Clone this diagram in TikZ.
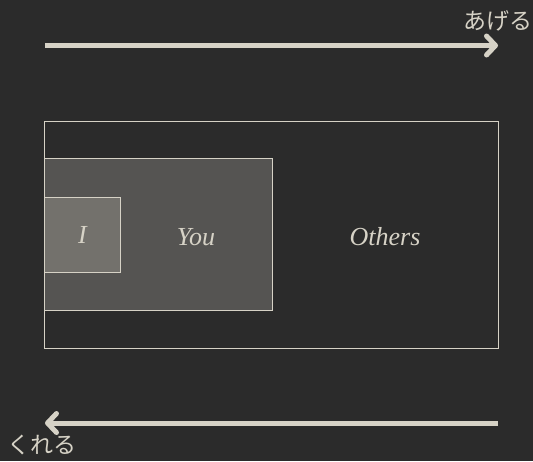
\documentclass[tikz,border=0pt]{standalone}
\usepackage{fontspec}
\setmainfont{Liberation Serif}
\newfontfamily\jpfont{Noto Sans CJK JP}
\usetikzlibrary{positioning,arrows.meta}
\definecolor{bgdark}{HTML}{2B2B2B}
\definecolor{linelight}{HTML}{D6D2C6}
\definecolor{youfill}{HTML}{555452}
\definecolor{ifill}{HTML}{73716C}

\begin{document}
\begin{tikzpicture}[x=1pt,y=-1pt,
	box/.style={draw=linelight, line width=1pt, inner sep=0pt, anchor=north west},
	lbl/.style={text=linelight, inner sep=0pt, font=\fontsize{26}{30}\selectfont\itshape},
	jlbl/.style={text=linelight, inner sep=0pt, font=\jpfont\fontsize{23}{27}\selectfont},
	flow/.style={draw=linelight, line width=5pt,
		-{Straight Barb[length=9pt, width=19pt, round]}}]
	\fill[bgdark] (0,0) rectangle (533,461);
	\useasboundingbox (0,0) rectangle (533,461);

	%Boxes
	\node[box, fill=bgdark, minimum width=454pt, minimum height=227pt] (others) at (44,121) {};
	\node[box, fill=youfill, minimum width=228pt, minimum height=152pt] (you) at (44,158) {};
	\node[box, fill=ifill, minimum width=76pt, minimum height=75pt] (me) at (44,197) {};

	%Labels
	\node[lbl] (lme) at (me.center) {I};
	\node[lbl] (lyou) at (196,237) {You};
	\node[lbl] (lothers) at (385,237) {Others};

	%Arrows
	\coordinate (g0) at (45,45.5);
	\coordinate (g1) at (498,45.5);
	\coordinate (k0) at (498,423);
	\coordinate (k1) at (45,423);
	\draw[flow] (g0) -- (g1);
	\draw[flow] (k0) -- (k1);
	\node[jlbl, anchor=east] (ageru) at (533,21) {あげる};
	\node[jlbl, anchor=west] (kureru) at (7,445) {くれる};
\end{tikzpicture}
\end{document}
